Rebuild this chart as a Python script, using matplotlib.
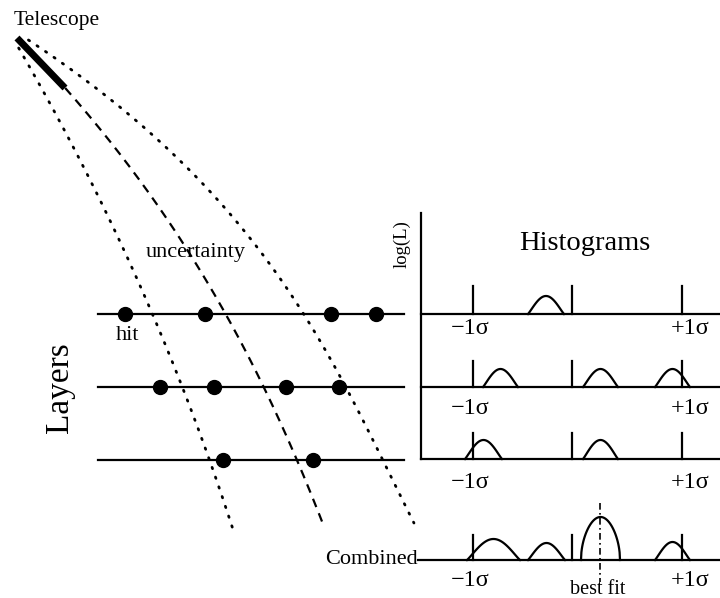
import numpy as np
import matplotlib
matplotlib.use("Agg")
import matplotlib.pyplot as plt

plt.rcParams['font.family'] = ['Liberation Serif', 'DejaVu Serif']

# ---------------- data (schematic, read in pixel units) ----------------
telescope_x = [17, 65]
telescope_y = [38, 88]

# track curves: points (x, y)
center_x = [65, 180, 202, 225, 264, 298, 323]
center_y = [88, 235, 278, 313, 387, 461, 525]
left_x = [18, 53, 132, 152, 180, 213, 233]
left_y = [48, 107, 268, 313, 387, 461, 533]
right_x = [28, 130, 245, 277, 302, 343, 388, 412]
right_y = [40, 115, 230, 275, 313, 387, 461, 523]

layer_y = [314, 387, 460]
layer_x0, layer_x1 = 98, 404
hits_x = [[125, 205, 331, 376], [160, 214, 286, 339], [223, 313]]

# histograms
hist_base = [314, 387, 459, 560]
hist_tick_x = [473, 572, 682]
hist_tick_h = [28, 26, 26, 25]
# humps per histogram: (start, end, height)
humps = [
    [(528, 564, 18)],
    [(483, 518, 18), (583, 618, 18), (655, 690, 18)],
    [(465, 502, 19), (583, 618, 19)],
    [(467, 520, 21), (528, 565, 17), (581, 620, 43), (655, 690, 18)],
]
sigma_labels = ["\u22121\u03c3", "+1\u03c3"]
sigma_label_x = [470, 690]
sigma_label_y = [328, 409, 482, 581]
best_fit_x = 600

# ---------------- drawing ----------------
fig = plt.figure(figsize=(7.2, 5.98), dpi=100)
ax = fig.add_axes([0, 0, 1, 1])
ax.set_xlim(0, 720)
ax.set_ylim(598, 0)
ax.axis('off')

lw = 1.6

def track(xs, ys, **kw):
    c = np.polyfit(ys, xs, 3)
    yy = np.linspace(ys[0], ys[-1], 300)
    ax.plot(np.polyval(c, yy), yy, color='black', **kw)

track(left_x, left_y, lw=2.0, linestyle=(0, (0.5, 3.2)), dash_capstyle='round')
track(right_x, right_y, lw=2.0, linestyle=(0, (0.5, 3.2)), dash_capstyle='round')
track(center_x, center_y, lw=1.6, linestyle=(0, (4, 3)))

ax.plot(telescope_x, telescope_y, color='black', lw=5, solid_capstyle='butt')
ax.text(57, 21, "Telescope", fontsize=15.5, ha='center', va='center')

for y, hx in zip(layer_y, hits_x):
    ax.plot([layer_x0, layer_x1], [y, y], color='black', lw=lw)
    ax.plot(hx, [y] * len(hx), 'o', color='black', ms=10)

ax.text(128, 336, "hit", fontsize=16, ha='center', va='center')
ax.text(196, 252, "uncertainty", fontsize=16, ha='center', va='center')
ax.text(60, 388, "Layers", fontsize=24, rotation=90, ha='center', va='center')

# histogram panel
ax.plot([421, 421], [213, hist_base[2]], color='black', lw=lw)
ax.text(402, 244, "log(L)", fontsize=13.5, rotation=90, ha='center', va='center')
ax.text(585, 243, "Histograms", fontsize=20.5, ha='center', va='center')

for i, base in enumerate(hist_base):
    x0 = 421 if i < 3 else 418
    ax.plot([x0, 720], [base, base], color='black', lw=lw)
    for tx in hist_tick_x:
        ax.plot([tx, tx], [base, base - hist_tick_h[i]], color='black', lw=lw)
    for (a, b, h) in humps[i]:
        t = np.linspace(0, 1, 100)
        shape = np.sin(np.pi * t)
        if h > 30:
            shape = shape ** 0.5
        else:
            shape = shape ** 1.1
        ax.plot(a + (b - a) * t, base - h * shape, color='black', lw=lw)
    for lab, lx in zip(sigma_labels, sigma_label_x):
        ax.text(lx, sigma_label_y[i], lab, fontsize=17.5, ha='center', va='center')

ax.text(418, 560, "Combined", fontsize=16, ha='right', va='center')
ax.plot([best_fit_x, best_fit_x], [503, 582], color='black', lw=1.2,
        linestyle=(0, (4, 2, 1, 2)))
ax.text(598, 589, "best fit", fontsize=14.5, ha='center', va='center')

fig.savefig("out.png", dpi=100)
